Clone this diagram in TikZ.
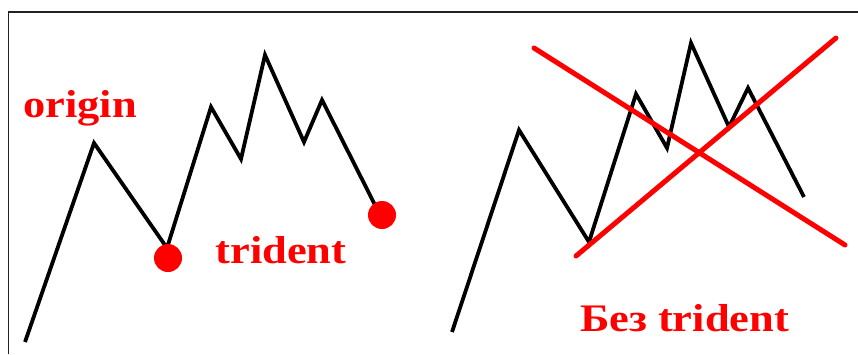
\documentclass[tikz,border=0pt]{standalone}
\usepackage{fontspec}
\setmainfont{Liberation Serif}
\usepackage{graphicx}
\usepackage{xcolor}
\definecolor{markred}{HTML}{FF0000}
\definecolor{framegray}{HTML}{222222}
\usepackage{tikz}
\usetikzlibrary{calc}
\tikzstyle{frame} = [
  draw=framegray, line width=1.5pt
]
\tikzstyle{price} = [
  draw=black, line width=3.8pt, line join=miter, line cap=butt
]
\tikzstyle{crossout} = [
  draw=markred, line width=5pt, line cap=round
]
\tikzstyle{dot} = [
  circle, minimum size=28pt, inner sep=0pt,
  fill=markred, draw=none
]
\tikzstyle{tag} = [
  anchor=base, inner sep=0pt, text=markred,
  font=\fontsize{39}{39}\selectfont\bfseries
]

\begin{document}
\begin{tikzpicture}[x=1pt, y=-1pt]
  \useasboundingbox (0,0) rectangle (858,354);

  % ── Frame ─────────────────────────────────────────────
  \draw[frame] (8.5,354) -- (8.5,12) -- (858,12);

  % ── Left chart (with trident) ─────────────────────────
  \draw[price] (25,342) -- (94,143) -- (167,248) -- (211,107)
    -- (241,159) -- (265,55) -- (304,142) -- (322,100) -- (375,205);
  \node[dot] (firstdot)  at (168,258) {};
  \node[dot] (seconddot) at (382,215) {};

  \node[tag] (origin)  at (80,117)  {\scalebox{1.14}[1]{origin}};
  \node[tag] (trident) at (281,263) {\scalebox{1.14}[1]{trident}};

  % ── Right chart (without trident) ─────────────────────
  \draw[price] (452,332) -- (519,130) -- (589,242) -- (636,94)
    -- (667,148) -- (691,43) -- (729,127) -- (748,88) -- (804,197);

  \coordinate (crossa) at (534,48);
  \coordinate (crossb) at (845,245);
  \coordinate (crossc) at (576,256);
  \coordinate (crossd) at (836,38);
  \draw[crossout] (crossa) -- (crossb);
  \draw[crossout] (crossc) -- (crossd);

  \node[tag] (notrident) at (684.5,331) {\scalebox{1.14}[1]{Без trident}};

\end{tikzpicture}
\end{document}
